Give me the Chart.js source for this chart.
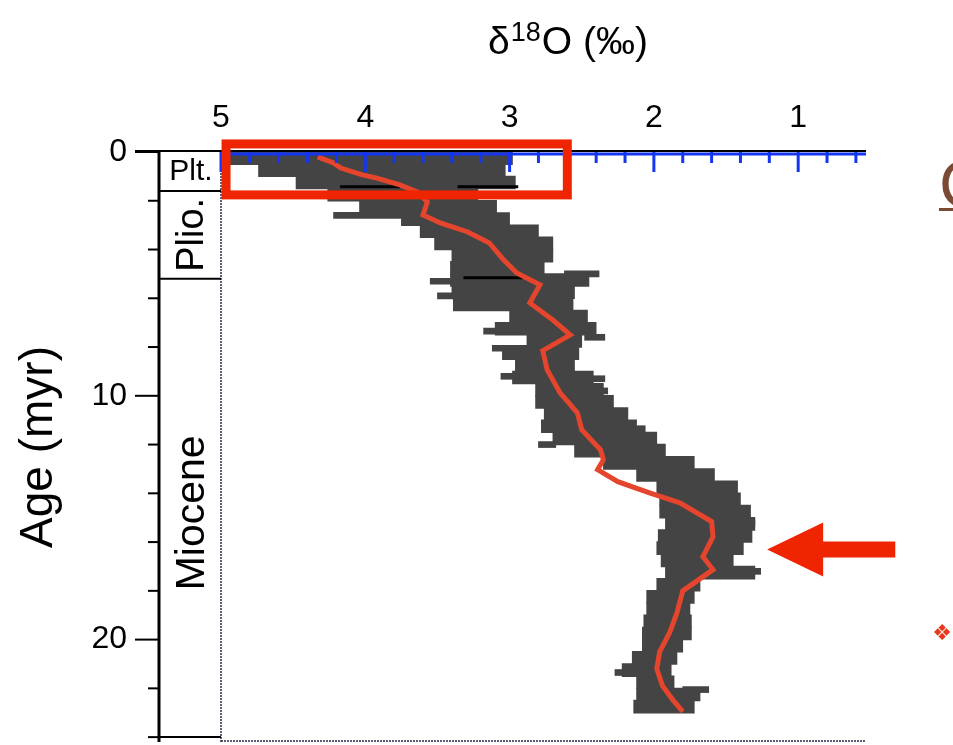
<!DOCTYPE html>
<html>
<head>
<meta charset="utf-8">
<script src="https://cdn.jsdelivr.net/npm/chart.js@4.4.3/dist/chart.umd.min.js"></script>
<style>
  html, body { margin: 0; padding: 0; background: #fff; overflow: hidden; }
</style>
</head>
<body>
<canvas id="chart" width="953" height="745"></canvas>
<script>
// ---- values ----
// x axis: d18O (per mil), reversed; y axis: age (myr), down
const xTickValues = [5, 4, 3, 2, 1];
const blueTickValues = [0.6, 0.8, 1.0, 1.2, 1.4, 1.6, 1.8, 2.0, 2.2, 2.4, 2.6, 2.8,
  3.0, 3.2, 3.4, 3.6, 3.8, 4.0, 4.2, 4.4, 4.6, 4.8, 5.0];

// point cloud, as its left / right extent in half-myr rows
const cloudAge = [0.25, 0.75, 1.25, 1.75, 2.25, 2.75, 3.25, 3.75, 4.25, 4.75,
  5.25, 5.75, 6.25, 6.75, 7.25, 7.75, 8.25, 8.75, 9.25, 9.75,
  10.25, 10.75, 11.25, 11.75, 12.25, 12.75, 13.25, 13.75, 14.25, 14.75,
  15.25, 15.75, 16.25, 16.75, 17.25, 17.75, 18.25, 18.75, 19.25, 19.75,
  20.25, 20.75, 21.25, 21.75, 22.25, 22.75];
const cloudLeft = [4.94, 4.74, 4.48, 4.26, 4.04, 3.75, 3.62, 3.52, 3.40, 3.41,
  3.41, 3.40, 3.39, 3.00, 3.10, 2.88, 3.05, 2.96, 2.98, 2.82,
  2.82, 2.76, 2.78, 2.70, 2.55, 2.35, 2.12, 1.98, 1.96, 1.96,
  1.92, 1.97, 1.98, 1.95, 1.92, 1.98, 2.05, 2.05, 2.07, 2.08,
  2.08, 2.15, 2.22, 2.12, 2.12, 2.14];
const cloudRight = [2.98, 3.03, 2.96, 3.22, 3.09, 3.00, 2.80, 2.70, 2.70, 2.76,
  2.45, 2.55, 2.56, 2.46, 2.40, 2.50, 2.52, 2.55, 2.42, 2.35,
  2.28, 2.18, 2.12, 1.98, 1.92, 1.72, 1.58, 1.42, 1.40, 1.33,
  1.30, 1.32, 1.38, 1.45, 1.30, 1.68, 1.72, 1.75, 1.74, 1.74,
  1.80, 1.84, 1.88, 1.86, 1.68, 1.72];

// thin horizontal streaks sticking out of the cloud
const armAge = [2.6, 5.0, 5.3, 5.9, 7.35, 7.6, 8.05, 9.2, 9.3, 9.8, 11.35, 12.0, 15.2, 17.2, 21.35, 22.05];
const armLeft = [4.22, 2.62, 3.55, 3.50, 3.18, 2.48, 3.12, 3.06, 2.44, 2.46, 2.20, 2.80, 1.45, 1.42, 2.27, 1.80];
const armRight = [3.70, 2.38, 3.20, 3.15, 2.95, 2.34, 2.88, 2.90, 2.34, 2.32, 2.06, 2.68, 1.30, 1.26, 2.12, 1.62];

// smoothed curve (red)
const curveAge = [0.2, 0.45, 0.66, 0.94, 1.07, 1.35, 1.64, 2.05, 2.58, 2.91, 3.28, 3.73,
  4.43, 4.96, 5.45, 6.19, 6.89, 7.5, 8.15, 8.93, 9.88, 10.7, 11.39, 12.21,
  12.62, 13.03, 13.52, 13.98, 14.39, 15.16, 15.78, 16.6, 17.13, 18.0, 18.9,
  19.7, 20.5, 21.2, 21.9, 22.46, 22.95];
const curveVal = [4.33, 4.22, 4.17, 4.02, 3.92, 3.76, 3.64, 3.57, 3.60, 3.48, 3.29, 3.14,
  3.04, 2.95, 2.79, 2.86, 2.70, 2.58, 2.77, 2.74, 2.65, 2.53, 2.50, 2.37,
  2.35, 2.39, 2.25, 2.03, 1.82, 1.60, 1.59, 1.66, 1.59, 1.80, 1.84,
  1.89, 1.96, 1.98, 1.94, 1.87, 1.80];

// black horizontal bars
const barAge = [1.43, 1.43, 5.16];
const barFrom = [4.175, 3.36, 3.32];
const barTo = [3.76, 2.94, 2.91];

// epochs
const epochNames = ['Plt.', 'Plio.', 'Miocene'];
const epochTop = [0, 1.6, 5.2];
const epochBottom = [1.6, 5.2, 24.0];
const epochLabelAge = [0.75, 3.4, 14.8];

// annotations
const boxVals = [4.965, 2.6];
const boxAges = [-0.33, 1.76];
const arrowAge = 16.3;
const arrowVals = [1.215, 0.827, 0.327]; // tip, neck, tail

const FONT = '"Liberation Sans", Arial, Helvetica, sans-serif';

const decor = {
  id: 'decor',
  afterDraw(chart) {
    const { ctx, chartArea: a, scales: { x, y } } = chart;
    const seg = (x1, y1, x2, y2) => { ctx.beginPath(); ctx.moveTo(x1, y1); ctx.lineTo(x2, y2); ctx.stroke(); };
    ctx.save();

    // plot left / bottom edges, dotted
    ctx.strokeStyle = '#2a2e48';
    ctx.lineWidth = 1.5;
    ctx.setLineDash([2, 1]);
    seg(a.left, a.top, a.left, a.bottom);
    seg(a.left, a.bottom - 1, a.right, a.bottom - 1);
    ctx.setLineDash([]);

    // blue ticks hanging under the top axis
    ctx.strokeStyle = '#1436f2';
    ctx.lineWidth = 3;
    blueTickValues.forEach(v => {
      const px = x.getPixelForValue(v);
      const len = Number.isInteger(v) ? 20 : 11;
      seg(px, a.top, px, a.top + len);
    });
    seg(a.left, a.top + 2, a.right, a.top + 2);
    ctx.strokeStyle = '#000';
    ctx.lineWidth = 2;
    seg(a.left - 86, a.top - 1, a.right, a.top - 1);

    // y axis line + ticks
    const axX = a.left - 62;
    ctx.lineWidth = 3;
    seg(axX, a.top - 1, axX, a.bottom);
    ctx.lineWidth = 2;
    y.ticks.forEach(t => {
      if (t.value % 2 !== 0) return;
      const py = y.getPixelForValue(t.value);
      const len = t.value % 10 === 0 ? 24 : 11;
      seg(axX - len, py, axX, py);
    });

    // epoch column
    epochBottom.forEach(b => {
      const py = y.getPixelForValue(b);
      seg(axX, py, a.left, py);
    });
    ctx.fillStyle = '#000';
    ctx.textAlign = 'center';
    ctx.textBaseline = 'middle';
    const colX = (axX + a.left) / 2 + 1;
    epochNames.forEach((name, i) => {
      const py = y.getPixelForValue(epochLabelAge[i]);
      if (i === 0) {
        ctx.font = '30px ' + FONT;
        ctx.fillText(name, colX, py + 1);
      } else {
        ctx.save();
        ctx.translate(colX + 2, py);
        ctx.rotate(-Math.PI / 2);
        ctx.font = (i === 1 ? '38px ' : '41px ') + FONT;
        ctx.fillText(name, 0, 0);
        ctx.restore();
      }
    });

    // x axis title with superscript
    const tx = 567, ty = 40;
    ctx.textBaseline = 'alphabetic';
    ctx.textAlign = 'left';
    const big = '39px ' + FONT, small = '27px ' + FONT;
    ctx.font = big; const w1 = ctx.measureText('\u03b4').width;
    ctx.font = small; const w2 = ctx.measureText('18').width;
    ctx.font = big; const w3 = ctx.measureText('O (\u2030)').width;
    let sx = tx - (w1 + w2 + w3) / 2;
    const base = ty + 14;
    ctx.font = big; ctx.fillText('\u03b4', sx, base); sx += w1 + 1;
    ctx.font = small; ctx.fillText('18', sx, base - 13); sx += w2 + 1;
    ctx.font = big; ctx.fillText('O (\u2030)', sx, base);

    // red highlight box
    ctx.strokeStyle = '#ef2400';
    ctx.lineWidth = 9;
    const bx1 = x.getPixelForValue(boxVals[0]), bx2 = x.getPixelForValue(boxVals[1]);
    const by1 = y.getPixelForValue(boxAges[0]), by2 = y.getPixelForValue(boxAges[1]);
    ctx.strokeRect(bx1, by1, bx2 - bx1, by2 - by1);

    // red arrow
    const ay = y.getPixelForValue(arrowAge);
    const tip = x.getPixelForValue(arrowVals[0]);
    const neck = x.getPixelForValue(arrowVals[1]);
    const tail = x.getPixelForValue(arrowVals[2]);
    ctx.fillStyle = '#ef2400';
    ctx.beginPath();
    ctx.moveTo(tip, ay);
    ctx.lineTo(neck, ay - 27);
    ctx.lineTo(neck, ay - 8);
    ctx.lineTo(tail, ay - 8);
    ctx.lineTo(tail, ay + 8);
    ctx.lineTo(neck, ay + 8);
    ctx.lineTo(neck, ay + 27);
    ctx.closePath();
    ctx.fill();

    // slide text cut off at the right edge
    ctx.fillStyle = '#7b4a35';
    ctx.font = '66px ' + FONT;
    ctx.textBaseline = 'alphabetic';
    ctx.fillText('C', a.right + 73, a.top + 55);
    ctx.fillRect(a.right + 73, a.top + 56, 40, 3);
    ctx.fillStyle = '#e8381c';
    ctx.font = '22px "DejaVu Sans", sans-serif';
    ctx.textAlign = 'center';
    ctx.textBaseline = 'middle';
    ctx.fillText('\u2756', a.right + 76, y.getPixelForValue(19.8));

    ctx.restore();
  }
};

const cloudData = cloudAge.map((age, i) => ({ y: age, x: [cloudLeft[i], cloudRight[i]] }));
const armData = armAge.map((age, i) => ({ y: age, x: [armLeft[i], armRight[i]] }));
const curveData = curveAge.map((age, i) => ({ y: age, x: curveVal[i] }));
const barSets = barAge.map((age, i) => ({
  type: 'line',
  data: [{ y: age, x: barFrom[i] }, { y: age, x: barTo[i] }],
  borderColor: '#000',
  borderWidth: 3,
  pointRadius: 0,
  order: 1
}));

new Chart(document.getElementById('chart'), {
  type: 'bar',
  data: {
    datasets: [
      {
        type: 'line',
        data: curveData,
        borderColor: '#e5452c',
        borderWidth: 5,
        pointRadius: 0,
        tension: 0,
        order: 0
      },
      ...barSets,
      {
        data: armData,
        backgroundColor: '#444444',
        barThickness: 6,
        grouped: false,
        borderWidth: 0,
        order: 2
      },
      {
        data: cloudData,
        backgroundColor: '#444444',
        barThickness: 13,
        grouped: false,
        borderWidth: 0,
        order: 3
      }
    ]
  },
  options: {
    indexAxis: 'y',
    responsive: false,
    animation: false,
    devicePixelRatio: 1,
    layout: { padding: { left: 0, right: 87, top: 0, bottom: 3 } },
    plugins: { legend: { display: false }, tooltip: { enabled: false } },
    scales: {
      x: {
        type: 'linear',
        position: 'top',
        reverse: true,
        min: 0.53,
        max: 5,
        grid: { display: false },
        border: { display: false },
        ticks: {
          autoSkip: false,
          maxRotation: 0,
          color: '#000',
          padding: 7,
          font: { family: FONT, size: 32 }
        },
        afterBuildTicks: s => { s.ticks = xTickValues.map(v => ({ value: v })); },
        afterFit: s => { s.height = 152; }
      },
      y: {
        type: 'linear',
        position: 'left',
        reverse: true,
        offset: false,
        min: 0,
        max: 24.2,
        // invisible tick marks only push the labels away from the plot
        grid: { display: true, drawOnChartArea: false, tickLength: 90, color: 'rgba(0,0,0,0)' },
        border: { display: false },
        ticks: {
          stepSize: 2,
          includeBounds: false,
          autoSkip: false,
          color: '#000',
          padding: 4,
          font: { family: FONT, size: 32 },
          callback: v => (v % 10 === 0 ? String(v) : '')
        },
        title: {
          display: true,
          text: 'Age (myr)',
          color: '#000',
          font: { family: FONT, size: 46 },
          padding: { top: 12, bottom: 0 }
        },
        afterFit: s => {
          s.width = 221;
          // the plot runs to the bottom edge, so label overhang must not shrink it
          s.paddingTop = 0;
          s.paddingBottom = 0;
        }
      }
    }
  },
  plugins: [decor]
});
</script>
</body>
</html>
